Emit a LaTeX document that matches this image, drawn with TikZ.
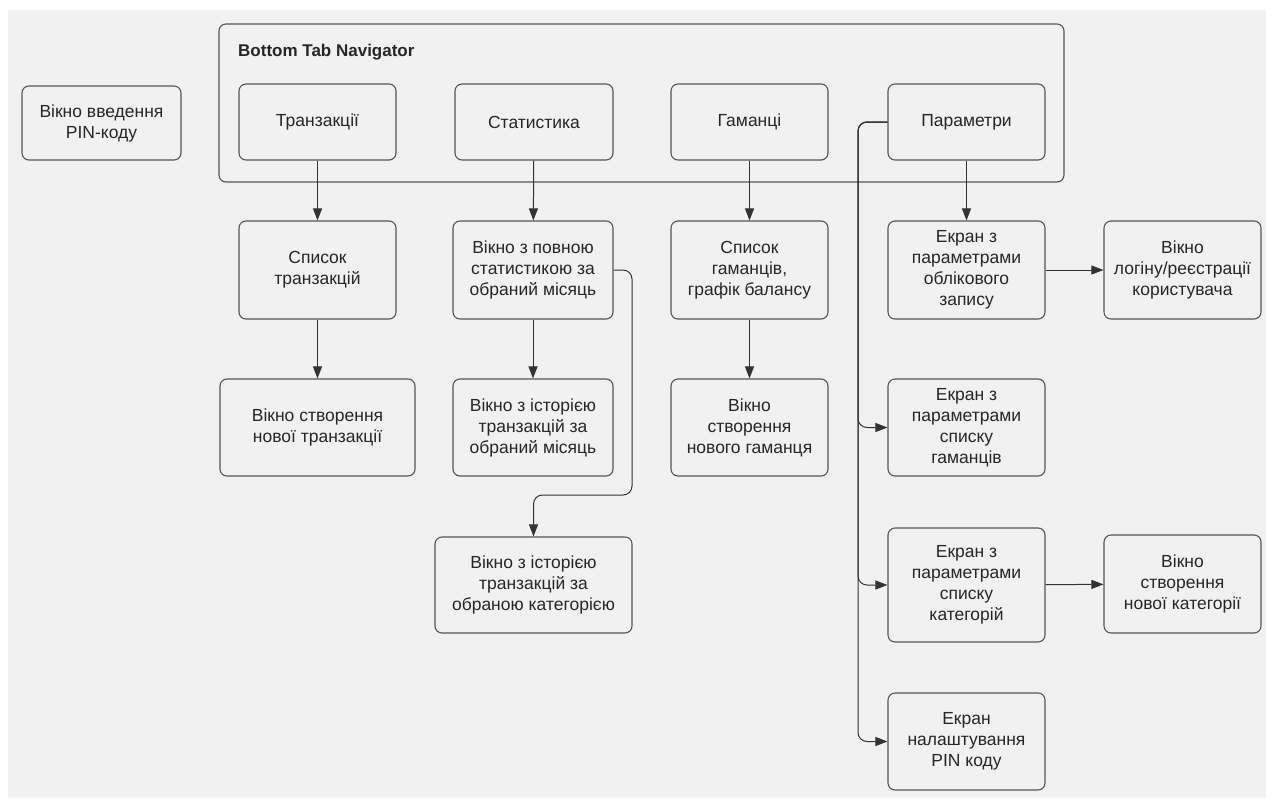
\documentclass[tikz,border=0pt]{standalone}
\usepackage{fontspec}
\setmainfont{Liberation Sans}
\usetikzlibrary{arrows.meta,calc,positioning}
\definecolor{bggray}{HTML}{F1F1F1}
\definecolor{boxgray}{HTML}{555555}
\definecolor{linegray}{HTML}{333333}
\tikzstyle{every node}+=[inner sep=0pt,align=center,font=\fontsize{17.5}{21}\selectfont,text=black!85]
\tikzstyle{screen}=[draw=boxgray,line width=1.1pt,fill=bggray,rounded corners=7pt,minimum width=157pt,minimum height=76pt]
\tikzstyle{tall}=[screen,minimum height=98pt]
\tikzstyle{arrow}=[draw=linegray,line width=1pt,-{Triangle[length=12pt,width=9pt]}]
\newcommand{\drawarrows}[2][\empty]{
	\foreach \a/\b in {#2}{
		\draw[arrow,#1] (\a) -- (\b);
	}
}

\begin{document}
\begin{tikzpicture}[x=1pt,y=-1pt]
	\fill[white] (0,0) rectangle (1266,798);
	\fill[bggray] (8,10) rectangle (1266,798);
	\useasboundingbox (0,0) rectangle (1266,798);
	% navigator
	\node[screen,minimum width=845pt,minimum height=158pt] (nav) at (641.5,103) {};
	\node[anchor=west,font=\bfseries\fontsize{17}{19}\selectfont] (navtitle) at (238,52) {Bottom Tab Navigator};
	\node[screen,minimum width=159pt,minimum height=74pt] (pin) at (101.5,123) {Вікно введення\\PIN-коду};
	% tabs
	\node[screen] (tr) at (317.5,122) {Транзакції};
	\node[screen,minimum width=158pt] (st) at (534,122) {Статистика};
	\node[screen] (gm) at (749.5,122) {Гаманці};
	\node[screen] (pr) at (966.5,122) {Параметри};
	% second row
	\node[tall] (trl) at (317.5,270) {Список\\транзакцій};
	\node[tall,minimum width=160pt] (stf) at (533,270) {Вікно з повною\\статистикою за\\обраний місяць};
	\node[tall] (gml) at (749.5,270) {Список\\гаманців,\\графік балансу};
	\node[tall] (acc) at (966.5,270) {Екран з\\параметрами\\облікового\\запису};
	\node[tall] (login) at (1182.5,270) {Вікно\\логіну/реєстрації\\користувача};
	% third row
	\node[tall,minimum width=195pt,minimum height=97pt] (trn) at (317.5,427.5) {Вікно створення\\нової транзакції};
	\node[tall,minimum width=160pt,minimum height=97pt] (sth) at (533,427.5) {Вікно з історією\\транзакцій за\\обраний місяць};
	\node[tall,minimum height=97pt] (gmn) at (749.5,427.5) {Вікно\\створення\\нового гаманця};
	\node[tall,minimum height=97pt] (wal) at (966.5,427.5) {Екран з\\параметрами\\списку\\гаманців};
	% fourth row
	\node[tall,minimum width=197pt,minimum height=96pt] (cath) at (533.5,585) {Вікно з історією\\транзакцій за\\обраною категорією};
	\node[tall,minimum height=114pt] (cat) at (966.5,585) {Екран з\\параметрами\\списку\\категорій};
	\node[tall] (catn) at (1182.5,584) {Вікно\\створення\\нової категорії};
	\node[tall,minimum height=97pt] (pinset) at (966.5,741.5) {Екран\\налаштування\\PIN коду};
	% connectors
	\drawarrows{tr/trl,trl/trn,st/stf,stf/sth,gm/gml,gml/gmn,pr/acc,acc/login,cat/catn}
	\coordinate (bus) at (858,0);
	\coordinate (detour) at (632,495);
	\draw[arrow,rounded corners=9pt] (stf.east) -| (detour) -| (cath.north);
	\foreach \t in {wal,cat,pinset}{
		\draw[arrow,rounded corners=9pt] (pr.west) -- (bus |- pr.west) -- (bus |- \t.west) -- (\t.west);
	}
\end{tikzpicture}
\end{document}
